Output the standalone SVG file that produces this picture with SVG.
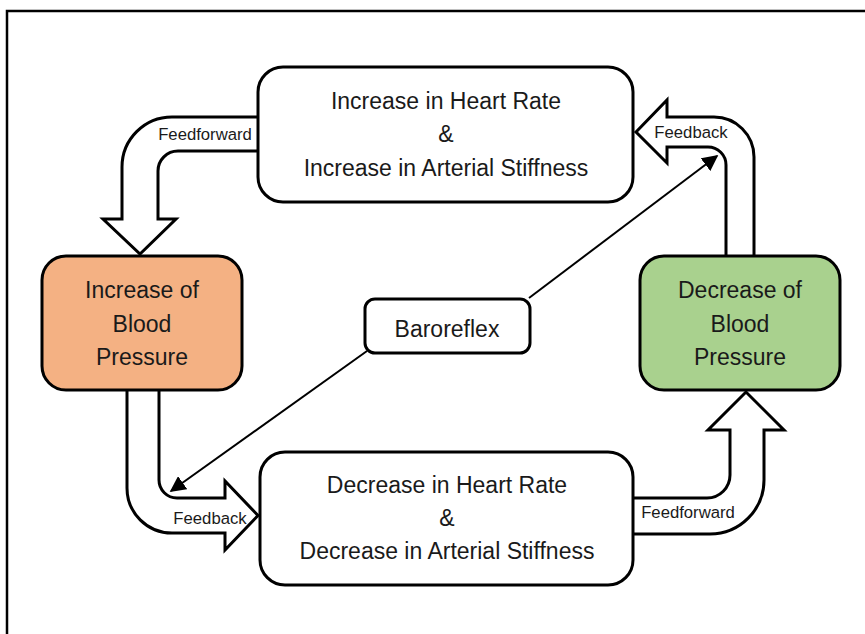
<svg xmlns="http://www.w3.org/2000/svg" width="865" height="634" viewBox="0 0 865 634">
  <style>
    .box { stroke: #000; stroke-width: 3; }
    .plain { fill: #fff; }
    .rise { fill: #F4B183; }
    .fall { fill: #A9D18E; }
    .big { font-family: "Liberation Sans", Arial, sans-serif; font-size: 23px; fill: #1a1a1a; text-anchor: middle; }
    .small { font-family: "Liberation Sans", Arial, sans-serif; font-size: 16.7px; fill: #1a1a1a; text-anchor: middle; }
    .block { fill: #fff; stroke: #000; stroke-width: 3; stroke-linejoin: miter; }
    .thin { fill: none; stroke: #000; stroke-width: 2; }
  </style>
  <defs>
    <marker id="head" viewBox="0 0 10 10" refX="9" refY="5" markerWidth="8" markerHeight="8" orient="auto">
      <path d="M0,0 L10,5 L0,10 Z" fill="#000"/>
    </marker>
  </defs>

  <rect width="865" height="634" fill="#fff"/>
  <!-- frame -->
  <path d="M7,634 V11 H865" fill="none" stroke="#000" stroke-width="2.5"/>

  <g id="connectors">
    <!-- Feedforward: heart rate up -> blood pressure up -->
    <path class="block" d="M270,117 H172 A50,50 0 0 0 122,167 V219 H103 L140,254 L176,219 H158 V171 A20,20 0 0 1 178,151 H270 Z"/>
    <text class="small" x="205" y="140">Feedforward</text>

    <!-- Feedback: blood pressure down -> heart rate up -->
    <path class="block" d="M636,132 L667,100 V117 H714 A40,40 0 0 1 754,157 V262 H726 V165 A18,18 0 0 0 708,147 H667 V163 Z"/>
    <text class="small" x="691" y="138">Feedback</text>

    <!-- Feedback: blood pressure up -> heart rate down -->
    <path class="block" d="M159,385 V480 A18,18 0 0 0 177,498 H225 V481 L258,515.5 L225,550 V533 H172 A45,45 0 0 1 127,488 V385 Z"/>
    <text class="small" x="210" y="524">Feedback</text>

    <!-- Feedforward: heart rate down -> blood pressure down -->
    <path class="block" d="M620,498 H707 A23,23 0 0 0 730,475 V430 H708 L746,392 L784,430 H764 V480 A54,54 0 0 1 710,534 H620 Z"/>
    <text class="small" x="688" y="518">Feedforward</text>

    <!-- baroreflex links -->
    <line class="thin" x1="529" y1="298" x2="717" y2="156" marker-end="url(#head)"/>
    <line class="thin" x1="367" y1="351" x2="171" y2="491" marker-end="url(#head)"/>
  </g>

  <g id="hr-up">
    <rect class="box plain" x="258" y="67" width="375" height="135" rx="25"/>
    <text class="big" x="446" y="109">Increase in Heart Rate</text>
    <text class="big" x="446" y="142">&amp;</text>
    <text class="big" x="446" y="176">Increase in Arterial Stiffness</text>
  </g>

  <g id="hr-down">
    <rect class="box plain" x="260" y="452" width="373" height="133" rx="25"/>
    <text class="big" x="447" y="493">Decrease in Heart Rate</text>
    <text class="big" x="447" y="526">&amp;</text>
    <text class="big" x="447" y="559">Decrease in Arterial Stiffness</text>
  </g>

  <g id="bp-up">
    <rect class="box rise" x="42" y="256" width="200" height="134" rx="24"/>
    <text class="big" x="142" y="298">Increase of</text>
    <text class="big" x="142" y="332">Blood</text>
    <text class="big" x="142" y="365">Pressure</text>
  </g>

  <g id="bp-down">
    <rect class="box fall" x="640" y="256" width="200" height="134" rx="24"/>
    <text class="big" x="740" y="298">Decrease of</text>
    <text class="big" x="740" y="332">Blood</text>
    <text class="big" x="740" y="365">Pressure</text>
  </g>

  <g id="baroreflex">
    <rect class="box plain" x="365" y="299" width="165" height="54" rx="10"/>
    <text class="big" x="447" y="337">Baroreflex</text>
  </g>
</svg>
